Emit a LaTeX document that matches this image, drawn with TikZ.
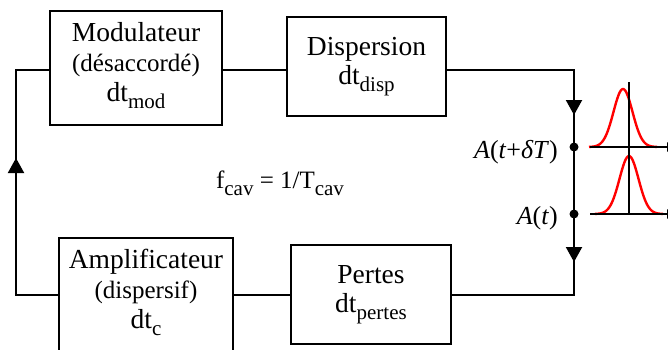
\documentclass[tikz,border=0pt]{standalone}
\usepackage{fontspec}
\setmainfont{Liberation Serif}
\usetikzlibrary{arrows.meta}
\newcommand{\sbs}[1]{\raisebox{-7pt}[0pt][0pt]{\fontsize{21}{21}\selectfont #1}}
\newcommand{\subline}[1]{{\fontsize{25}{27}\selectfont #1}}
\begin{document}
\begin{tikzpicture}[x=1pt,y=-1pt,
  box/.style={draw, line width=2pt, inner sep=0pt, align=center, text depth=12pt, font=\fontsize{27.5}{29}\selectfont},
  wire/.style={line width=2pt},
  tip/.style={-{Triangle[width=16pt,length=15pt]}},
  smalltip/.style={-{Triangle[width=9pt,length=10pt]}},
  pulse/.style={red, line width=2.4pt},
  lbl/.style={inner sep=0pt, font=\fontsize{26}{28}\selectfont},
  dot/.style={circle, fill, inner sep=0pt, minimum size=9pt}
  ]
\clip (0,0) rectangle (668,349);
% boxes
\node[box, minimum width=172pt, minimum height=114pt] (mod) at (136,67.5)
  {Modulateur\\[1pt]\subline{(désaccordé)}\\[1pt]dt\sbs{mod}};
\node[box, minimum width=159pt, minimum height=99pt] (disp) at (366.5,66.5)
  {Dispersion\\dt\sbs{disp}};
\node[box, minimum width=174pt, minimum height=114pt] (amp) at (146,295)
  {Amplificateur\\[1pt]\subline{(dispersif)}\\[1pt]dt\sbs{c}};
\node[box, minimum width=160pt, minimum height=99pt] (pert) at (371,294.5)
  {Pertes\\dt\sbs{pertes}};
% corners and points
\coordinate (tl) at (16,69.5);
\coordinate (tr) at (574,69.5);
\coordinate (br) at (574,295);
\coordinate (bl) at (16,295);
\node[dot] (p1) at (574,147) {};
\node[dot] (p2) at (574,214) {};
\coordinate (a1) at (574,115);
\coordinate (a2) at (574,262);
\coordinate (a3) at (16,158);
% wires
\draw[wire] (mod.east |- tl) -- (disp.west |- tl);
\draw[wire] (disp.east |- tr) -- (tr) -- (a1);
\draw[wire, tip] (tr) -- (a1);
\draw[wire] (a1) -- (p1.center) -- (p2.center) -- (a2);
\draw[wire, tip] (p2.center) -- (a2);
\draw[wire] (a2) -- (br) -- (pert.east |- br);
\draw[wire] (pert.west |- br) -- (amp.east |- br);
\draw[wire] (amp.west |- bl) -- (bl) -- (a3);
\draw[wire, tip] (bl) -- (a3);
\draw[wire] (a3) -- (tl) -- (mod.west |- tl);
% labels
\node[lbl, anchor=base, font=\fontsize{25}{27}\selectfont] (fcav) at (280,188) {f\sbs{cav} = 1/T\sbs{cav}};
\node[lbl, anchor=base east] (lA1) at (558,158) {\textit{A}(\textit{t}+\textit{δT})};
\node[lbl, anchor=base east] (lA2) at (558,224) {\textit{A}(\textit{t})};
% pulses
\coordinate (g1s) at (590,147);
\coordinate (g1e) at (677,147);
\coordinate (g2s) at (590,214);
\coordinate (g2e) at (677,214);
\coordinate (vt) at (629,82);
\coordinate (vb) at (629,215);
\draw[pulse] plot[domain=-34:34, samples=80] ({623+\x}, {147-58*exp(-0.5*(\x/9.5)^2)});
\draw[pulse] plot[domain=-34:34, samples=80] ({629+\x}, {214-58*exp(-0.5*(\x/9.5)^2)});
\draw[wire, smalltip] (g1s) -- (g1e);
\draw[wire, smalltip] (g2s) -- (g2e);
\draw[wire] (vt) -- (vb);
\end{tikzpicture}
\end{document}
